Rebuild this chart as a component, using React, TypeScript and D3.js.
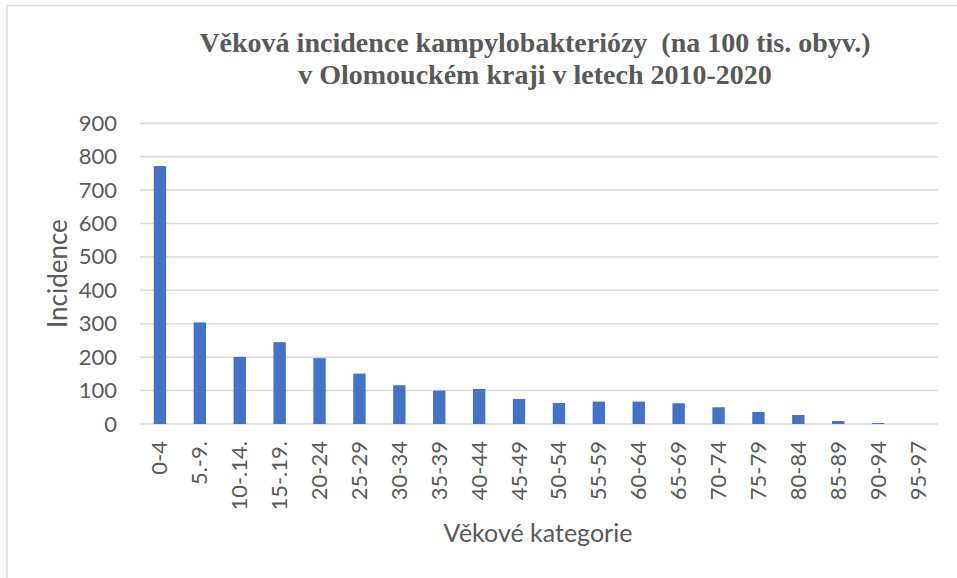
import React, { useEffect, useRef } from 'react';
import * as d3 from 'd3';

const categories = ['0-4', '5.-9.', '10-.14.', '15-.19.', '20-24', '25-29', '30-34', '35-39', '40-44', '45-49',
  '50-54', '55-59', '60-64', '65-69', '70-74', '75-79', '80-84', '85-89', '90-94', '95-97'];
const incidence = [772, 304, 201, 245, 197, 151, 116, 100, 105, 75, 63, 67, 67, 62, 50, 36, 27, 9, 3, 0];
const yTicks = [0, 100, 200, 300, 400, 500, 600, 700, 800, 900];
const titleLines = ['Věková incidence kampylobakteriózy  (na 100 tis. obyv.)', 'v Olomouckém kraji v letech 2010-2020'];

const App = () => {
  const svgRef = useRef<SVGSVGElement>(null);

  useEffect(() => {
    const svg = d3.select(svgRef.current);
    svg.selectAll('*').remove();

    const width = 957;
    const height = 578;
    const plot = { left: 140, right: 938, top: 123.3, bottom: 424 };
    const sans = 'Lato, "Open Sans", sans-serif';
    const grey = '#595959';

    svg.append('rect').attr('width', width).attr('height', height).attr('fill', '#fff');

    // chart area border (only top + left visible in the original)
    svg.append('path')
      .attr('d', `M7,${height} V5.5 H${width}`)
      .attr('fill', 'none')
      .attr('stroke', '#d9d9d9')
      .attr('stroke-width', 1.5);

    const x = d3.scaleBand<string>()
      .domain(categories)
      .range([plot.left, plot.right])
      .paddingInner(0.69)
      .paddingOuter(0.345);

    const y = d3.scaleLinear()
      .domain([0, 900])
      .range([plot.bottom, plot.top]);

    // gridlines
    svg.append('g')
      .selectAll('line')
      .data(yTicks)
      .enter()
      .append('line')
      .attr('x1', plot.left)
      .attr('x2', plot.right)
      .attr('y1', d => y(d))
      .attr('y2', d => y(d))
      .attr('stroke', '#d9d9d9')
      .attr('stroke-width', 1.5);

    // y tick labels
    svg.append('g')
      .selectAll('text')
      .data(yTicks)
      .enter()
      .append('text')
      .attr('x', 117)
      .attr('y', d => y(d) + 7.5)
      .attr('text-anchor', 'end')
      .attr('font-family', sans)
      .attr('font-size', 22)
      .attr('fill', grey)
      .text(d => d);

    // bars
    svg.append('g')
      .selectAll('rect')
      .data(incidence)
      .enter()
      .append('rect')
      .attr('x', (d, i) => x(categories[i]) as number)
      .attr('y', d => y(d))
      .attr('width', x.bandwidth())
      .attr('height', d => plot.bottom - y(d))
      .attr('fill', '#4472c4');

    // x labels, rotated
    svg.append('g')
      .selectAll('text')
      .data(categories)
      .enter()
      .append('text')
      .attr('transform', d => `translate(${(x(d) as number) + x.bandwidth() / 2 + 7.5},441) rotate(-90)`)
      .attr('text-anchor', 'end')
      .attr('font-family', sans)
      .attr('font-size', 22)
      .attr('fill', grey)
      .text(d => d);

    // axis titles
    svg.append('text')
      .attr('transform', `translate(67,${(plot.top + plot.bottom) / 2}) rotate(-90)`)
      .attr('text-anchor', 'middle')
      .attr('font-family', sans)
      .attr('font-size', 26)
      .attr('fill', grey)
      .text('Incidence');

    svg.append('text')
      .attr('x', 538)
      .attr('y', 542)
      .attr('text-anchor', 'middle')
      .attr('font-family', sans)
      .attr('font-size', 25)
      .attr('fill', grey)
      .text('Věkové kategorie');

    // title
    svg.append('g')
      .selectAll('text')
      .data(titleLines)
      .enter()
      .append('text')
      .attr('x', 535)
      .attr('y', (d, i) => 52 + i * 32)
      .attr('text-anchor', 'middle')
      .attr('font-family', '"Liberation Serif", "Times New Roman", serif')
      .attr('font-weight', 'bold')
      .attr('font-size', 28)
      .attr('fill', grey)
      .style('white-space', 'pre')
      .text(d => d);
  }, []);

  return (
    <svg ref={svgRef} width={957} height={578} style={{ position: 'absolute', left: 0, top: 0 }} />
  );
};

export default App;
